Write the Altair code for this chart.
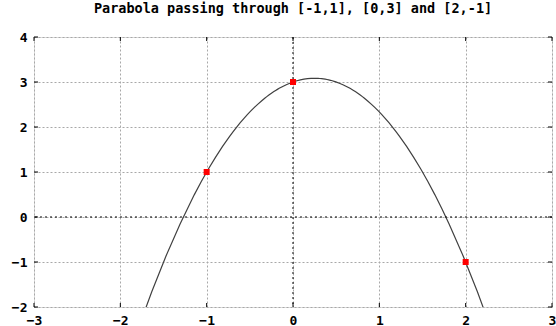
import altair as alt
import pandas as pd

# Points the parabola must pass through
px = [-1, 0, 2]
py = [1, 3, -1]

# Axis ticks
x_ticks = [-3, -2, -1, 0, 1, 2, 3]
y_ticks = [-2, -1, 0, 1, 2, 3, 4]
zero_line = [0]

title_text = "Parabola passing through [-1,1], [0,3] and [2,-1]"

FONT = "DejaVu Sans Mono"
W, H = 518, 270

pts = pd.DataFrame({"x": px, "y": py})
xt = pd.DataFrame({"v": x_ticks})
yt = pd.DataFrame({"v": y_ticks})
zl = pd.DataFrame({"v": zero_line})

xs = alt.Scale(domain=[-3, 3], nice=False, zero=False)
ys = alt.Scale(domain=[-2, 4], nice=False, zero=False)

common_axis = dict(
    grid=True, gridColor="#a8a8a8", gridDash=[2, 2], gridWidth=1,
    ticks=False, domain=False, labelFont=FONT, labelFontWeight="bold",
    labelFontSize=13, labelColor="black", title=None, format="d",
    labelFlush=False, labelOverlap=False,
)
xaxis = alt.Axis(values=x_ticks, labelPadding=7, **common_axis)
yaxis = alt.Axis(values=y_ticks, labelPadding=7, **common_axis)

base = alt.Chart(pts)

# Fitted quadratic through the three points (exact fit with order 2)
curve = (
    base.transform_regression("x", "y", method="poly", order=2, extent=[-1.8, 2.3])
    .mark_line(color="#404040", strokeWidth=1.2, clip=True)
    .encode(x=alt.X("x:Q", scale=xs, axis=xaxis),
            y=alt.Y("y:Q", scale=ys, axis=yaxis))
)

# Zero axes, dashed black
zx = alt.Chart(zl).mark_rule(color="black", strokeDash=[2, 3], strokeWidth=1).encode(
    x=alt.X("v:Q", scale=xs))
zy = alt.Chart(zl).mark_rule(color="black", strokeDash=[2, 3], strokeWidth=1).encode(
    y=alt.Y("v:Q", scale=ys))

# Inward tick marks on all four sides
tk = 4
t_bottom = alt.Chart(xt).mark_rule(color="black").encode(
    x=alt.X("v:Q", scale=xs), y=alt.value(H), y2=alt.value(H - tk))
t_top = alt.Chart(xt).mark_rule(color="black").encode(
    x=alt.X("v:Q", scale=xs), y=alt.value(0), y2=alt.value(tk))
t_left = alt.Chart(yt).mark_rule(color="black").encode(
    y=alt.Y("v:Q", scale=ys), x=alt.value(0), x2=alt.value(tk))
t_right = alt.Chart(yt).mark_rule(color="black").encode(
    y=alt.Y("v:Q", scale=ys), x=alt.value(W), x2=alt.value(W - tk))

points = base.mark_point(shape="square", filled=True, color="#ff0000", size=36, opacity=1).encode(
    x=alt.X("x:Q", scale=xs), y=alt.Y("y:Q", scale=ys))

chart = (
    alt.layer(curve, zx, zy, t_bottom, t_top, t_left, t_right, points)
    .properties(
        width=W, height=H,
        title=alt.TitleParams(title_text, font=FONT, fontWeight="bold", fontSize=13.5,
                              color="black", anchor="middle", offset=16),
        autosize=alt.AutoSizeParams(type="none"),
        padding={"left": 34, "top": 37, "right": 4, "bottom": 19},
    )
    .configure_view(stroke="black", strokeWidth=1)
    .configure(background="white")
)

chart.save("out.html", embed_options={"renderer": "svg", "actions": False})
